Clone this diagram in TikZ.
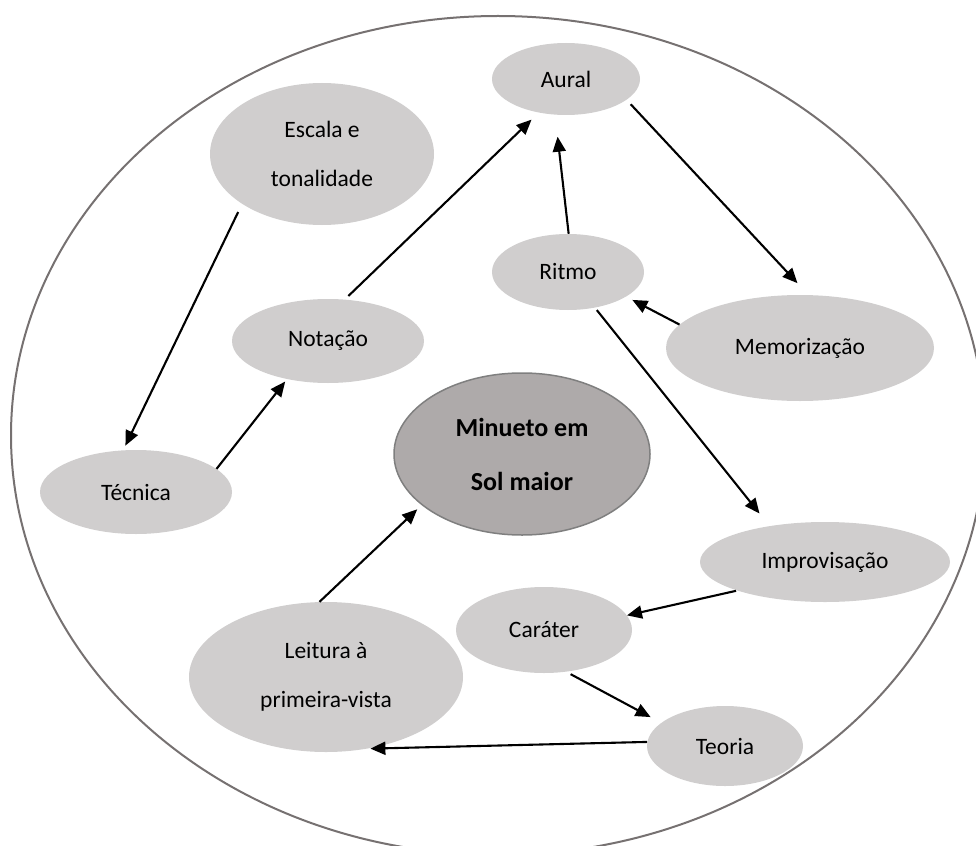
\documentclass[tikz,border=0pt]{standalone}
\usepackage{fontspec}
\setmainfont{Carlito}
\usetikzlibrary{arrows.meta,shapes.geometric}
\definecolor{bubble}{HTML}{D0CECE}
\definecolor{core}{HTML}{AEAAAA}
\definecolor{rim}{HTML}{767171}
\definecolor{coreline}{HTML}{7F7F7F}
\begin{document}
\begin{tikzpicture}[x=1pt,y=-1pt,
  topic/.style={ellipse, fill=bubble, inner sep=0pt, align=center,
    font=\fontsize{23.5}{49}\selectfont},
  link/.style={line width=2.1pt, -{Triangle[length=15pt,width=13pt]}},
  ]
\useasboundingbox (0,0) rectangle (976,845);
\clip (0,0) rectangle (976,845);

% outer boundary
\node[draw=rim, line width=2pt, ellipse, inner sep=0pt,
  minimum width=974pt, minimum height=839pt] (frame) at (498,435.5) {};

% topics
\node[topic, minimum width=148pt, minimum height=72pt]  (aural)  at (566,79)  {Aural};
\node[topic, minimum width=224pt, minimum height=142pt] (escala) at (322,154) {Escala e\\tonalidade};
\node[topic, minimum width=152pt, minimum height=76pt]  (ritmo)  at (568,272) {Ritmo};
\node[topic, minimum width=192pt, minimum height=84pt]  (nota)   at (328,341) {Notação};
\node[topic, minimum width=268pt, minimum height=106pt] (memo)   at (800,348) {Memorização};
\node[topic, minimum width=192pt, minimum height=84pt]  (tec)    at (136,492) {Técnica};
\node[topic, minimum width=250pt, minimum height=80pt]  (impro)  at (825,562) {Improvisação};
\node[topic, minimum width=176pt, minimum height=86pt]  (car)    at (544,630) {Caráter};
\node[topic, minimum width=274pt, minimum height=150pt] (leit)   at (326,677) {Leitura à\\primeira-vista};
\node[topic, minimum width=156pt, minimum height=80pt]  (teo)    at (725,746) {Teoria};

% central piece
\node[topic, fill=core, draw=coreline, line width=1.5pt,
  minimum width=256pt, minimum height=162pt,
  font=\bfseries\fontsize{26}{54}\selectfont] (minueto) at (522,454) {Minueto em\\Sol maior};

% connections
\draw[link, shorten <=9pt, shorten >=5pt]  (escala.212) -- (tec.107);
\draw[link, shorten >=3pt]                 (tec.16)     -- (nota.223);
\draw[link, shorten <=5pt, shorten >=10pt] (nota.68)    -- (aural.231);
\draw[link, shorten >=22pt]                (ritmo.89)   -- (aural.253);
\draw[link, shorten <=6pt, shorten >=16pt] (aural.341)  -- (memo.81);
\draw[link, shorten >=7pt]                 (memo.169)   -- (ritmo.337);
\draw[link, shorten <=3pt, shorten >=16pt] (ritmo.307)  -- (impro.147);
\draw[link, shorten <=1pt]                 (impro.198)  -- (car.10);
\draw[link, shorten <=5pt, shorten >=12pt] (car.298)    -- (teo.160);
\draw[link, shorten >=3pt]                 (teo.177)    -- (leit.300);
\draw[link, shorten >=6pt]                 (leit.95)    -- (minueto.207);
\end{tikzpicture}
\end{document}
